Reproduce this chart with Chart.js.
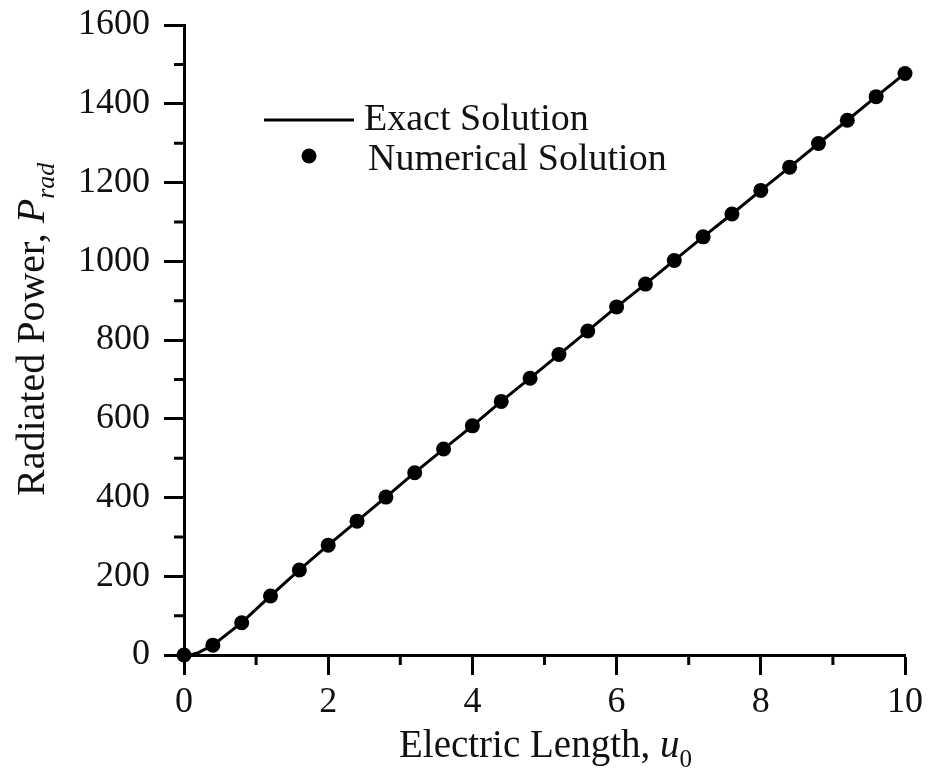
<!DOCTYPE html>
<html>
<head>
<meta charset="utf-8">
<script src="https://cdn.jsdelivr.net/npm/chart.js@4.4.1/dist/chart.umd.min.js"></script>
<style>
  body { margin: 0; background: #fff; }
  canvas { display: block; }
</style>
</head>
<body>
<canvas id="power-chart" width="929" height="774"></canvas>
<script>
// numerical solution
const numU = [0, 0.4, 0.8, 1.2, 1.6, 2.0, 2.4, 2.8, 3.2, 3.6, 4.0, 4.4, 4.8, 5.2,
  5.6, 6.0, 6.4, 6.8, 7.2, 7.6, 8.0, 8.4, 8.8, 9.2, 9.6, 10.0];
const numP = [0, 25, 82, 150, 216, 279, 340, 401, 463, 523, 582, 644, 703, 763,
  823, 884, 942, 1002, 1062, 1120, 1180, 1239, 1299, 1358, 1418, 1477];

// exact solution curve (same reading, plus the bend near the origin)
const exactU = [0, 0.1, 0.2, 0.4, 0.8, 1.2, 1.6, 2.0, 2.4, 2.8, 3.2, 3.6, 4.0, 4.4, 4.8, 5.2,
  5.6, 6.0, 6.4, 6.8, 7.2, 7.6, 8.0, 8.4, 8.8, 9.2, 9.6, 10.0];
const exactP = [0, 1, 6, 25, 82, 150, 216, 279, 340, 401, 463, 523, 582, 644, 703, 763,
  823, 884, 942, 1002, 1062, 1120, 1180, 1239, 1299, 1358, 1418, 1477];

const xTicks = [0, 2, 4, 6, 8, 10];
const yTicks = [0, 200, 400, 600, 800, 1000, 1200, 1400, 1600];
const seriesNames = ["Exact Solution", "Numerical Solution"];

const SERIF = '"Liberation Serif", "Times New Roman", serif';

const toPoints = (xs, ys) => xs.map((x, i) => ({ x, y: ys[i] }));

const whiteBg = {
  id: "whiteBg",
  beforeDraw(chart) {
    const c = chart.ctx;
    c.save();
    c.fillStyle = "#fff";
    c.fillRect(0, 0, chart.width, chart.height);
    c.restore();
  }
};

// minor ticks, axis titles and the legend box inside the plot
const extras = {
  id: "extras",
  afterDraw(chart) {
    const c = chart.ctx;
    const xs = chart.scales.x, ys = chart.scales.y;
    const area = chart.chartArea;
    c.save();
    c.strokeStyle = "#000";
    c.lineWidth = 3;
    c.beginPath();
    for (let i = 0; i < xTicks.length - 1; i++) {
      const px = xs.getPixelForValue((xTicks[i] + xTicks[i + 1]) / 2);
      c.moveTo(px, area.bottom);
      c.lineTo(px, area.bottom + 10);
    }
    for (let i = 0; i < yTicks.length - 1; i++) {
      const py = ys.getPixelForValue((yTicks[i] + yTicks[i + 1]) / 2);
      c.moveTo(area.left, py);
      c.lineTo(area.left - 10, py);
    }
    c.stroke();

    c.fillStyle = "#111";
    c.textBaseline = "alphabetic";
    c.textAlign = "left";

    // x title
    let x = 399;
    const yb = 757;
    c.font = "39px " + SERIF;
    c.fillText("Electric Length, ", x, yb);
    x += c.measureText("Electric Length, ").width;
    c.font = "italic 39px " + SERIF;
    c.fillText("u", x, yb);
    x += c.measureText("u").width;
    c.font = "25px " + SERIF;
    c.fillText("0", x, yb + 10);

    // y title, rotated
    c.save();
    c.translate(44, 496);
    c.rotate(-Math.PI / 2);
    let t = 0;
    c.font = "40px " + SERIF;
    c.fillText("Radiated Power, ", t, 0);
    t += c.measureText("Radiated Power, ").width;
    c.font = "italic 40px " + SERIF;
    c.fillText("P", t, 0);
    t += c.measureText("P").width;
    c.font = "italic 26px " + SERIF;
    c.fillText("rad", t, 10);
    c.restore();

    // legend
    const exact = chart.data.datasets[0], num = chart.data.datasets[1];
    c.strokeStyle = exact.borderColor;
    c.lineWidth = exact.borderWidth;
    c.beginPath();
    c.moveTo(264, 120);
    c.lineTo(354, 120);
    c.stroke();
    c.fillStyle = num.backgroundColor;
    c.beginPath();
    c.arc(309, 156, num.pointRadius, 0, Math.PI * 2);
    c.fill();
    c.fillStyle = "#111";
    c.font = "38px " + SERIF;
    c.textBaseline = "middle";
    c.fillText(exact.label, 364, 120);
    c.fillText(num.label, 368, 160);
    c.restore();
  }
};

const ctx = document.getElementById("power-chart").getContext("2d");
const chart = new Chart(ctx, {
  type: "scatter",
  data: {
    datasets: [
      {
        label: seriesNames[0],
        data: toPoints(exactU, exactP),
        showLine: true,
        borderColor: "#000",
        borderWidth: 3,
        pointRadius: 0,
        tension: 0,
        clip: false
      },
      {
        label: seriesNames[1],
        data: toPoints(numU, numP),
        showLine: false,
        backgroundColor: "#000",
        borderColor: "#000",
        pointRadius: 7.5,
        pointBorderWidth: 0,
        clip: false
      }
    ]
  },
  options: {
    responsive: false,
    animation: false,
    layout: { padding: { top: 25, right: 24, left: 0, bottom: 0 } },
    plugins: {
      legend: { display: false },
      tooltip: { enabled: false }
    },
    scales: {
      x: {
        type: "linear",
        min: 0,
        max: 10,
        afterFit: s => { s.height = 119; s.paddingLeft = 0; s.paddingRight = 0; },
        afterBuildTicks: s => { s.ticks = xTicks.map(v => ({ value: v })); },
        ticks: {
          color: "#111",
          font: { family: SERIF, size: 36 },
          padding: 6,
          maxRotation: 0,
          callback: v => String(v)
        },
        grid: {
          drawOnChartArea: false,
          tickLength: 20,
          tickWidth: 3,
          tickColor: "#000"
        },
        border: { color: "#000", width: 3 }
      },
      y: {
        min: 0,
        max: 1600,
        afterFit: s => { s.width = 184; s.paddingTop = 0; s.paddingBottom = 0; },
        afterBuildTicks: s => { s.ticks = yTicks.map(v => ({ value: v })); },
        ticks: {
          color: "#111",
          font: { family: SERIF, size: 36 },
          padding: 14,
          callback: v => String(v)
        },
        grid: {
          drawOnChartArea: false,
          tickLength: 20,
          tickWidth: 3,
          tickColor: "#000"
        },
        border: { color: "#000", width: 3 }
      }
    }
  },
  plugins: [whiteBg, extras]
});
</script>
</body>
</html>
